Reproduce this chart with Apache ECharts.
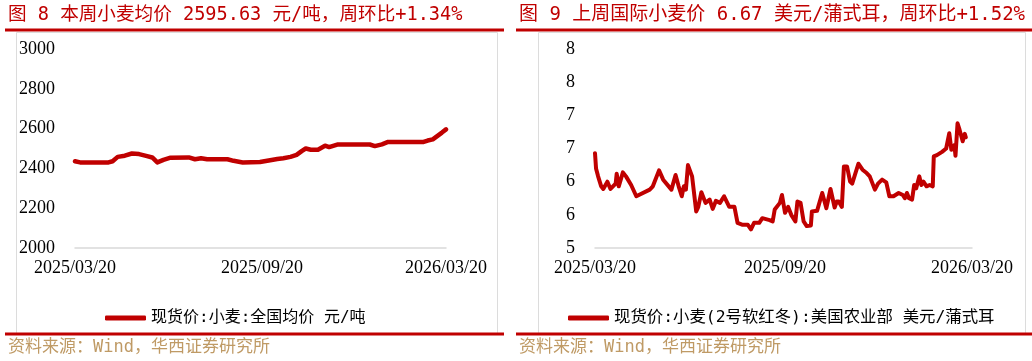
<!DOCTYPE html>
<html><head><meta charset="utf-8">
<script src="https://cdn.jsdelivr.net/npm/echarts@6/dist/echarts.min.js"></script>
<style>html,body{margin:0;padding:0;background:#fff}#c{width:1032px;height:361px}</style>
</head><body><div id="c"></div>
<script>
// ---- data ----
const leftTitle = '图 8 本周小麦均价 2595.63 元/吨，周环比+1.34%';
const rightTitle = '图 9 上周国际小麦价 6.67 美元/蒲式耳，周环比+1.52%';
const sourceText = '资料来源：Wind，华西证券研究所';
const leftSeriesName = '现货价:小麦:全国均价 元/吨';
const rightSeriesName = '现货价:小麦(2号软红冬):美国农业部 美元/蒲式耳';

const xTickLabels = ['2025/03/20', '2025/09/20', '2026/03/20'];
const leftYTicks = ['2000', '2200', '2400', '2600', '2800', '3000'];
const rightYTicks = ['5', '6', '6', '7', '7', '8', '8'];

const leftDates = ['2025-03-20','2025-03-25','2025-04-22','2025-04-26','2025-05-01','2025-05-08','2025-05-15','2025-05-22','2025-05-29','2025-06-04','2025-06-09','2025-06-15','2025-06-22','2025-07-10','2025-07-16','2025-07-22','2025-07-28','2025-08-17','2025-08-23','2025-09-01','2025-09-18','2025-09-28','2025-10-05','2025-10-11','2025-10-18','2025-10-24','2025-10-29','2025-11-02','2025-11-07','2025-11-14','2025-11-21','2025-11-25','2025-12-03','2026-01-04','2026-01-09','2026-01-16','2026-01-22','2026-02-26','2026-03-02','2026-03-07','2026-03-11','2026-03-16','2026-03-20'];
const leftValues = [2436,2430,2430,2436,2458,2464,2475,2472,2463,2455,2430,2443,2454,2455,2446,2451,2446,2446,2438,2430,2432,2441,2447,2451,2458,2468,2487,2500,2494,2494,2514,2507,2520,2520,2512,2521,2533,2533,2540,2546,2561,2580,2596];

const rightDates = ['2025-03-20','2025-03-21','2025-03-23','2025-03-26','2025-03-28','2025-04-01','2025-04-04','2025-04-09','2025-04-10','2025-04-12','2025-04-16','2025-04-19','2025-04-24','2025-04-29','2025-05-12','2025-05-15','2025-05-21','2025-05-25','2025-06-02','2025-06-06','2025-06-09','2025-06-12','2025-06-14','2025-06-16','2025-06-18','2025-06-22','2025-06-26','2025-06-28','2025-07-01','2025-07-05','2025-07-09','2025-07-12','2025-07-15','2025-07-19','2025-07-23','2025-07-28','2025-08-02','2025-08-05','2025-08-10','2025-08-15','2025-08-18','2025-08-21','2025-08-26','2025-08-29','2025-09-05','2025-09-08','2025-09-10','2025-09-15','2025-09-17','2025-09-20','2025-09-23','2025-09-26','2025-09-30','2025-10-02','2025-10-05','2025-10-08','2025-10-11','2025-10-15','2025-10-16','2025-10-21','2025-10-26','2025-10-30','2025-11-03','2025-11-07','2025-11-09','2025-11-11','2025-11-14','2025-11-16','2025-11-19','2025-11-22','2025-11-24','2025-11-30','2025-12-04','2025-12-08','2025-12-11','2025-12-16','2025-12-19','2025-12-23','2025-12-27','2025-12-30','2026-01-03','2026-01-08','2026-01-12','2026-01-14','2026-01-16','2026-01-18','2026-01-21','2026-01-23','2026-01-25','2026-01-28','2026-01-30','2026-02-01','2026-02-04','2026-02-07','2026-02-10','2026-02-11','2026-02-14','2026-02-19','2026-02-23','2026-02-26','2026-02-28','2026-03-03','2026-03-04','2026-03-06','2026-03-08','2026-03-11','2026-03-13','2026-03-14'];
const rightValues = [6.43,6.20,6.08,5.93,5.89,6.00,5.89,5.97,6.12,5.93,6.14,6.08,5.95,5.78,5.88,5.93,6.17,6.03,5.88,6.10,5.93,5.78,5.93,5.88,6.25,6.08,5.55,5.62,5.84,5.68,5.73,5.59,5.71,5.68,5.78,5.62,5.62,5.38,5.35,5.35,5.28,5.38,5.38,5.45,5.42,5.40,5.58,5.68,5.80,5.53,5.62,5.50,5.40,5.70,5.68,5.40,5.33,5.34,5.55,5.56,5.83,5.60,5.89,5.61,5.70,5.70,5.62,6.23,6.23,6.00,5.97,6.27,6.18,6.13,6.08,5.88,5.97,6.03,5.99,5.78,5.78,5.83,5.80,5.75,5.83,5.75,5.73,5.95,5.90,6.08,5.95,6.00,5.93,5.95,5.93,6.38,6.40,6.45,6.50,6.73,6.48,6.55,6.39,6.88,6.78,6.61,6.72,6.67];

// ---- helpers ----
function ts(s) { const p = s.split(/[\/-]/).map(Number); return Date.UTC(p[0], p[1] - 1, p[2]); }
const xTickValues = xTickLabels.map(ts);
function xFmt(v) { const i = xTickValues.indexOf(v); return i >= 0 ? xTickLabels[i] : ''; }

const RED = '#c00000';
const CJK = '"DejaVu Sans Mono", "Noto Sans CJK SC", sans-serif';
const SERIF = '"Liberation Serif", "Times New Roman", serif';

function xAxis(gi) {
  return {
    type: 'value', gridIndex: gi, scale: true,
    min: xTickValues[0], max: xTickValues[xTickValues.length - 1],
    axisLine: { lineStyle: { color: '#d9d9d9', width: 1.5 } },
    axisTick: { show: false },
    splitLine: { show: false },
    axisLabel: { customValues: xTickValues, formatter: xFmt, margin: 11,
      fontFamily: SERIF, fontSize: 18, color: '#000', hideOverlap: false }
  };
}
function yAxis(gi, min, max, interval, labels) {
  return {
    type: 'value', gridIndex: gi, min: min, max: max, interval: interval,
    axisLine: { show: false }, axisTick: { show: false }, splitLine: { show: false },
    axisLabel: { margin: 20, fontFamily: SERIF, fontSize: 18, color: '#000',
      formatter: function (v, i) { return labels[i]; } }
  };
}

const chart = echarts.init(document.getElementById('c'), null, { renderer: 'canvas' });
chart.setOption({
  animation: false,
  backgroundColor: '#fff',
  title: [
    { text: leftTitle, left: 8, top: 4, padding: 0, textStyle: { fontFamily: CJK, fontSize: 18.6, fontWeight: 'normal', color: RED, lineHeight: 22 } },
    { text: rightTitle, left: 519, top: 4, padding: 0, textStyle: { fontFamily: CJK, fontSize: 19, fontWeight: 'normal', color: RED, lineHeight: 22 } },
    { text: sourceText, left: 8, top: 338, padding: 0, textStyle: { fontFamily: CJK, fontSize: 17, fontWeight: 'normal', color: '#bf9a65', lineHeight: 19 } },
    { text: sourceText, left: 519, top: 338, padding: 0, textStyle: { fontFamily: CJK, fontSize: 17, fontWeight: 'normal', color: '#bf9a65', lineHeight: 19 } }
  ],
  graphic: [
    { type: 'rect', shape: { x: 16.5, y: 32.5, width: 481, height: 302 }, style: { fill: 'none', stroke: '#dcdcdc', lineWidth: 1 }, silent: true },
    { type: 'rect', shape: { x: 538.5, y: 32.5, width: 487, height: 302 }, style: { fill: 'none', stroke: '#dcdcdc', lineWidth: 1 }, silent: true },
    { type: 'line', shape: { x1: 5, y1: 30, x2: 504, y2: 30 }, style: { stroke: RED, lineWidth: 3 }, silent: true },
    { type: 'line', shape: { x1: 516, y1: 30, x2: 1032, y2: 30 }, style: { stroke: RED, lineWidth: 3 }, silent: true },
    { type: 'line', shape: { x1: 5, y1: 334, x2: 504, y2: 334 }, style: { stroke: RED, lineWidth: 3 }, silent: true },
    { type: 'line', shape: { x1: 516, y1: 334, x2: 1032, y2: 334 }, style: { stroke: RED, lineWidth: 3 }, silent: true }
  ],
  legend: [
    { data: [leftSeriesName], left: 105, top: 309, padding: 0, itemWidth: 41, itemHeight: 5, icon: 'roundRect',
      textStyle: { fontFamily: CJK, fontSize: 16, color: '#000', lineHeight: 18 } },
    { data: [rightSeriesName], left: 568, top: 309, padding: 0, itemWidth: 41, itemHeight: 5, icon: 'roundRect',
      textStyle: { fontFamily: CJK, fontSize: 16.4, color: '#000', lineHeight: 18 } }
  ],
  grid: [
    { left: 75, right: 1032 - 446, top: 49, bottom: 361 - 248 },
    { left: 595, right: 1032 - 972, top: 49, bottom: 361 - 248 }
  ],
  xAxis: [xAxis(0), xAxis(1)],
  yAxis: [
    yAxis(0, 2000, 3000, 200, leftYTicks),
    yAxis(1, 5, 8, 0.5, rightYTicks)
  ],
  series: [
    { name: leftSeriesName, type: 'line', xAxisIndex: 0, yAxisIndex: 0, symbol: 'none', smooth: false,
      color: RED, lineStyle: { width: 4.5, color: RED, cap: 'round', join: 'round' },
      data: leftDates.map(function (d, i) { return [ts(d), leftValues[i]]; }) },
    { name: rightSeriesName, type: 'line', xAxisIndex: 1, yAxisIndex: 1, symbol: 'none', smooth: false,
      color: RED, lineStyle: { width: 4, color: RED, cap: 'round', join: 'round' },
      data: rightDates.map(function (d, i) { return [ts(d), rightValues[i]]; }) }
  ]
});
</script></body></html>
